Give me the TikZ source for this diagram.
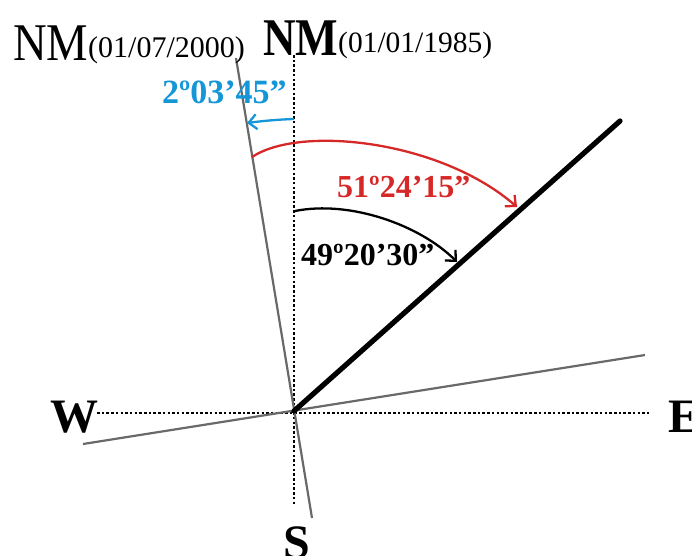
\documentclass[tikz,border=0pt]{standalone}
\usepackage{fontspec}
\setmainfont{Liberation Serif}
\usetikzlibrary{arrows.meta}
\definecolor{angblue}{RGB}{20,150,215}
\definecolor{angred}{RGB}{215,40,40}
\definecolor{axisgray}{RGB}{105,105,105}
\begin{document}
\begin{tikzpicture}[x=1pt,y=-1pt,
  lbl/.style={inner sep=0pt,anchor=base west},
  dotline/.style={line width=2.6pt,dash pattern=on 2.5pt off 2.2pt},
  grayline/.style={axisgray,line width=2.2pt},
  anglearrow/.style={line width=2.3pt,-{Straight Barb[length=8pt,width=15pt]}},
]
\useasboundingbox (0,0) rectangle (692,555);
% coordinates
\coordinate (O) at (294,411);
\coordinate (ntop) at (294,55);
\coordinate (nbot) at (294,505);
\coordinate (wend) at (97,413);
\coordinate (eend) at (649,413);
\coordinate (g1a) at (236,58);
\coordinate (g1b) at (312,518);
\coordinate (g2a) at (83,444);
\coordinate (g2b) at (645,355);
\coordinate (thick) at (620,121);
\coordinate (bs) at (294,119);
\coordinate (be) at (247,123);
\coordinate (rs) at (252,157);
\coordinate (re) at (517,207);
\coordinate (ks) at (295,211);
\coordinate (ke) at (457,262);
% lines
\draw[dotline] (ntop) -- (nbot);
\draw[dotline] (wend) -- (eend);
\draw[grayline] (g1a) -- (g1b);
\draw[grayline] (g2a) -- (g2b);
\draw[line width=5.2pt,line cap=round] (O) -- (thick);
% angle arrows
\draw[anglearrow,angblue] (bs) .. controls (278,119.5) and (262,121) .. (be);
\draw[anglearrow,angred] (rs) .. controls (300,125) and (440,140) .. (re);
\draw[anglearrow,black] (ks) .. controls (350,200) and (420,225) .. (ke);
% labels
\node[lbl] (nmold) at (13,60) {\fontsize{53}{53}\selectfont\scalebox{0.88}[1]{NM}};
\node[lbl] (subold) at (88,57) {\fontsize{30}{30}\selectfont (01/07/2000)};
\node[lbl] (nmnew) at (263,55) {\fontsize{53}{53}\selectfont\bfseries\scalebox{0.85}[1]{NM}};
\node[lbl] (subnew) at (338,52) {\fontsize{29.5}{30}\selectfont (01/01/1985)};
\node[lbl,text=angblue] (lblue) at (162,103) {\fontsize{34}{34}\selectfont\bfseries 2º03’45”};
\node[lbl,text=angred] (lred) at (337,197) {\fontsize{32}{32}\selectfont\bfseries 51º24’15”};
\node[lbl] (lblack) at (301,265) {\fontsize{32}{32}\selectfont\bfseries 49º20’30”};
\node[lbl] (west) at (50,432) {\fontsize{48}{48}\selectfont\bfseries W};
\node[lbl] (east) at (668,432) {\fontsize{48}{48}\selectfont\bfseries E};
\node[lbl] (south) at (283,558) {\fontsize{48}{48}\selectfont\bfseries S};
\end{tikzpicture}
\end{document}
